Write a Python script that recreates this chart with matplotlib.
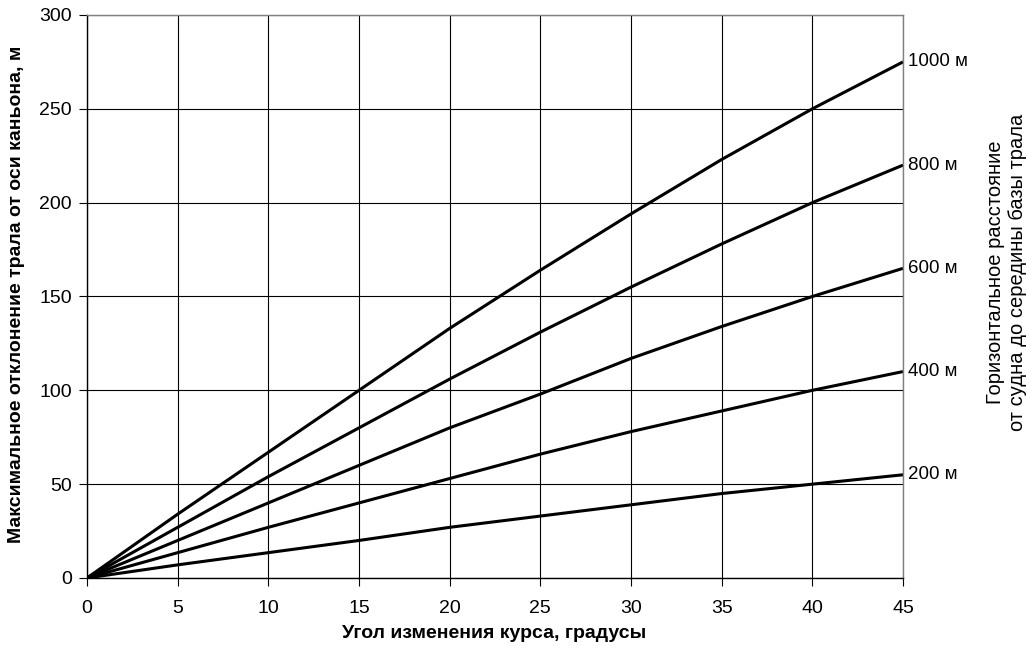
import matplotlib.pyplot as plt
import numpy as np

plt.rcParams['font.family'] = ['Liberation Sans', 'DejaVu Sans']

# angle of course change, degrees
angles = [0, 5, 10, 15, 20, 25, 30, 35, 40, 45]

# max trawl deviation for each horizontal distance
dev_200 = [0, 7, 13.5, 20, 27, 33, 39, 45, 50, 55]
dev_400 = [0, 13.5, 27, 40, 53, 66, 78, 89, 100, 110]
dev_600 = [0, 20, 40, 60, 80, 98, 117, 134, 150, 165]
dev_800 = [0, 27, 54, 80, 106, 131, 155, 178, 200, 220]
dev_1000 = [0, 34, 67, 100, 133, 164, 194, 223, 250, 275]

series = [dev_200, dev_400, dev_600, dev_800, dev_1000]
labels = ['200 м', '400 м', '600 м', '800 м', '1000 м']

fig = plt.figure(figsize=(10.26, 6.52), dpi=100)
ax = fig.add_axes([0.0848, 0.1135, 0.7953, 0.8635])

for vals, lab in zip(series, labels):
    ax.plot(angles, vals, color='black', lw=2.2, solid_capstyle='butt')
    ax.text(45.25, vals[-1], lab, fontsize=13.5, va='center', ha='left')

ax.set_xlim(0, 45)
ax.set_ylim(0, 300)
ax.set_xticks(np.arange(0, 46, 5))
ax.set_yticks(np.arange(0, 301, 50))
ax.grid(True, color='black', lw=0.8)
ax.tick_params(axis='both', labelsize=14, length=6, width=0.8, direction='out')
ax.tick_params(axis='x', pad=10)
ax.tick_params(axis='y', pad=5)

for s in ['top', 'right']:
    ax.spines[s].set_color('#808080')
for s in ax.spines.values():
    s.set_linewidth(1)

# axis titles
fig.text(0.482, 1 - 633 / 652, 'Угол изменения курса, градусы', fontsize=14,
         fontweight='bold', ha='center', va='center')
fig.text(17 / 1026, 1 - 294 / 652, 'Максимальное отклонение трала от оси каньона, м',
         fontsize=14, fontweight='bold', rotation=90, ha='center', va='center')

fig.text(0.981, 0.583, 'Горизонтальное расстояние\nот судна до середины базы трала',
         rotation=90, fontsize=14.5, ha='center', va='center', multialignment='center')

fig.savefig('out.png', dpi=100)
